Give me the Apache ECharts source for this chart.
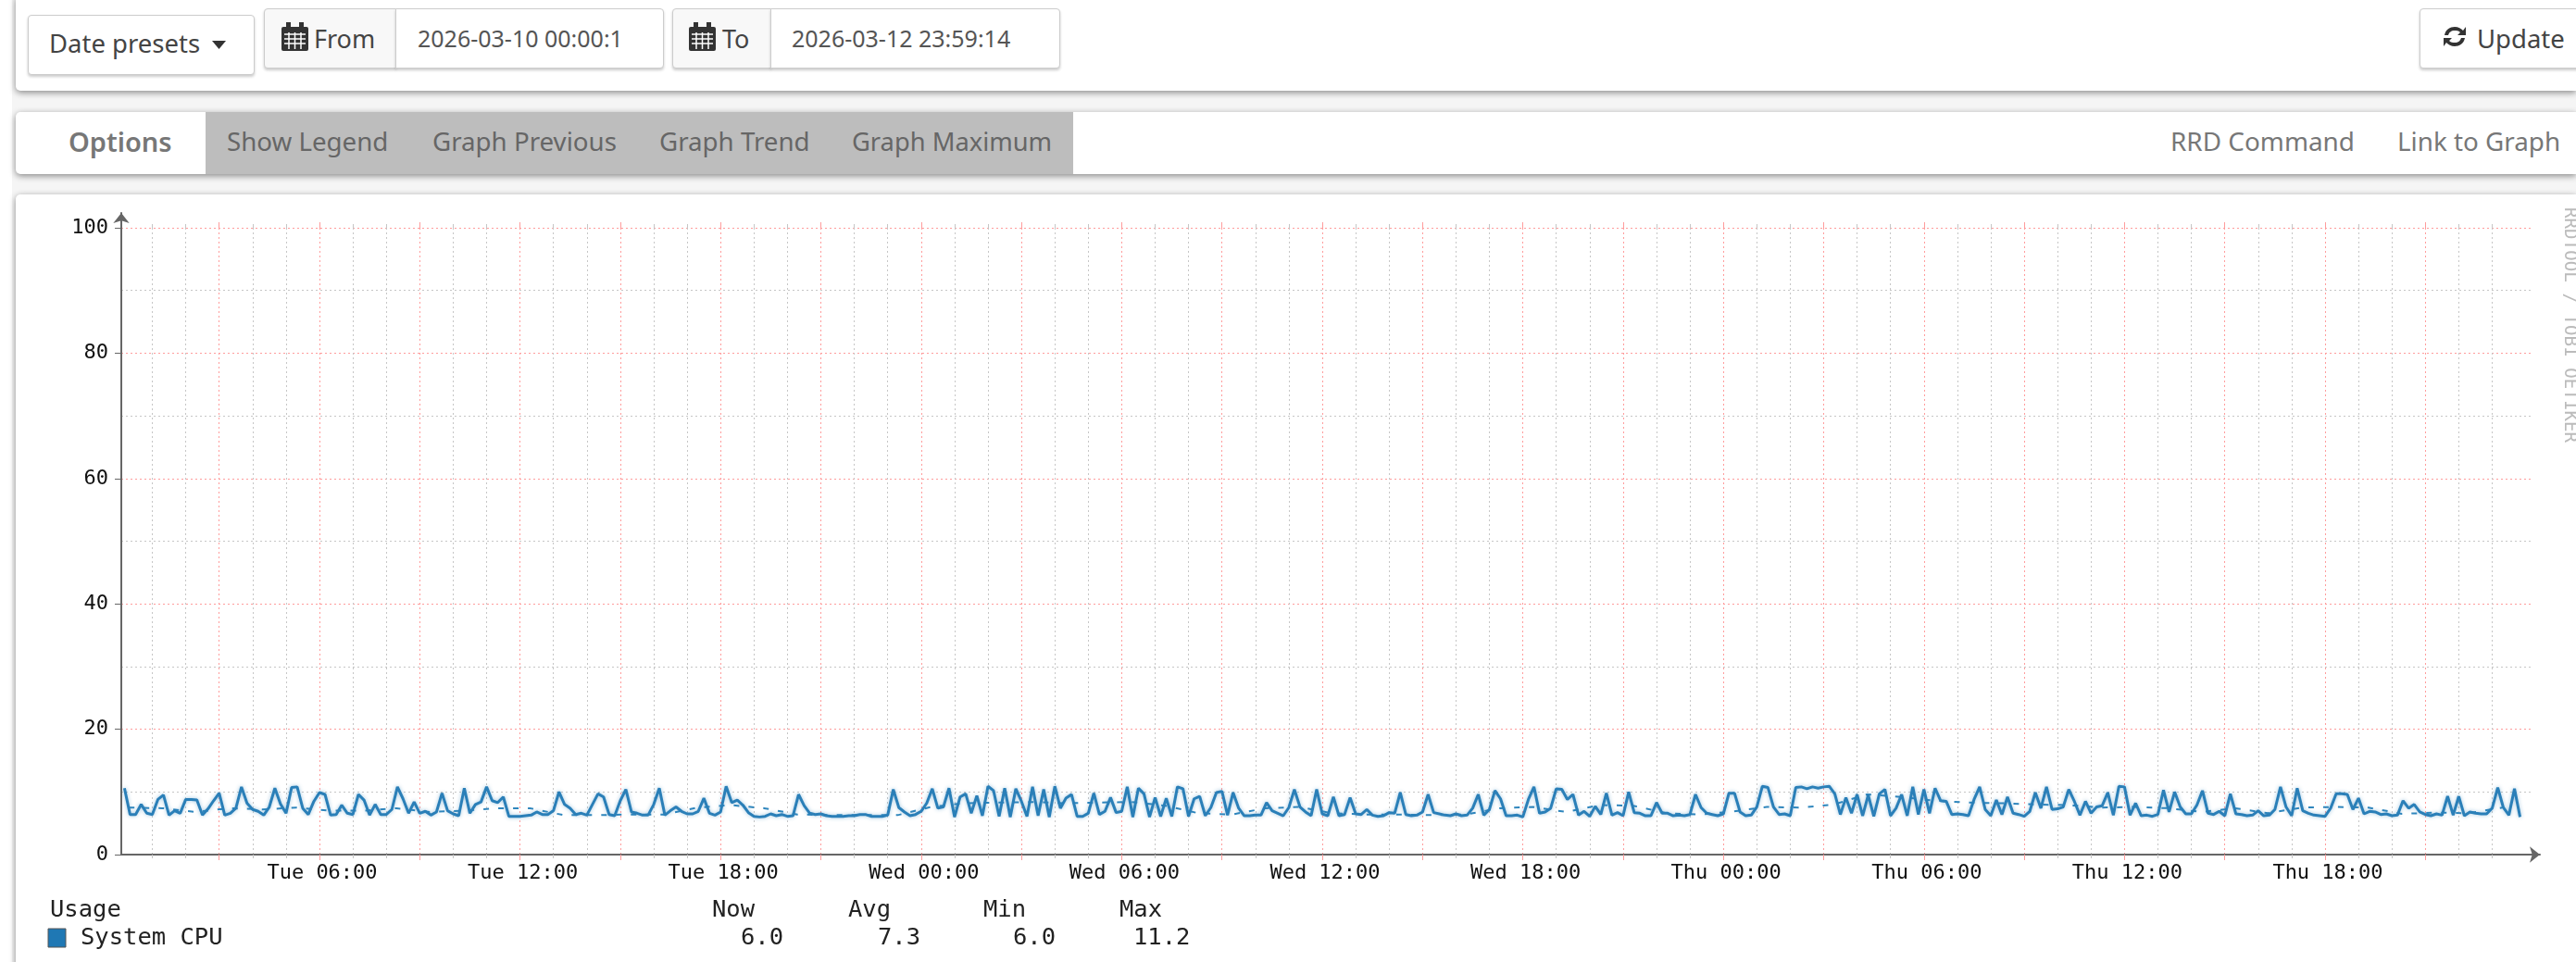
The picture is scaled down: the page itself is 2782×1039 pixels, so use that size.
<!DOCTYPE html>
<html lang="en">
<head>
<meta charset="UTF-8">
<title>System CPU</title>
<script src="https://cdn.jsdelivr.net/npm/echarts@6/dist/echarts.min.js"></script>
<style>
    html, body { margin: 0; padding: 0; width: 2782px; height: 1039px; overflow: hidden; background: #fff; }
    body { font-family: "Noto Sans", sans-serif; color: #444; }
    .strip { position: absolute; left: 13px; top: 0; width: 2769px; height: 1039px; background: #f5f5f5; }
    .panel { position: absolute; left: 17px; width: 2765px; background: #fff; border-radius: 5px 0 0 5px; box-shadow: 0 2px 7px rgba(0,0,0,.45); }
    .btn { position: absolute; box-sizing: border-box; background: #fff; border: 1px solid #ccc; border-radius: 4px; box-shadow: 0 2px 3px rgba(0,0,0,.2); }
    .addon { background: #f8f8f8; }
    .t { position: absolute; white-space: nowrap; line-height: 1; }
    .grey { position: absolute; left: 222px; top: 121px; width: 937px; height: 67px; background: #bdbdbd; }
    #chart { position: absolute; left: 0; top: 0; width: 2782px; height: 1039px; }
</style>
</head>
<body>
<div class="strip"></div>
<div class="panel" style="top:-5px;height:103px"></div>
<div class="panel" style="top:121px;height:67px"></div>
<div class="panel" style="top:210px;height:860px"></div>
<div class="grey"></div>

<div class="btn" style="left:30px;top:16px;width:245px;height:65px"></div>
<div class="btn addon" style="left:285px;top:9px;width:143px;height:65px;border-radius:4px 0 0 4px"></div>
<div class="btn" style="left:427px;top:9px;width:290px;height:65px;border-radius:0 4px 4px 0"></div>
<div class="btn addon" style="left:726px;top:9px;width:107px;height:65px;border-radius:4px 0 0 4px"></div>
<div class="btn" style="left:832px;top:9px;width:313px;height:65px;border-radius:0 4px 4px 0"></div>
<div class="btn" style="left:2613px;top:9px;width:200px;height:65px"></div>

<span class="t" style="left:53px;top:33px;font-size:27.500px;color:#444">Date presets</span>
<svg style="position:absolute;left:229px;top:44px" width="16" height="9"><path d="M0 0H15L7.500 9Z" fill="#333"/></svg>
<svg style="position:absolute;left:304px;top:24px" width="29" height="31" viewBox="0 0 29 31"><rect x="0" y="5" width="29" height="26" rx="2" fill="#333"/><rect x="5" y="0" width="5" height="8" fill="#333"/><rect x="19" y="0" width="5" height="8" fill="#333"/><path d="M3 13H26M3 18H26M3 23H26M8 11V29M14.500 11V29M21 11V29" stroke="#fff" stroke-width="1.500"/></svg>
<span class="t" style="left:339px;top:28px;font-size:27px;color:#444">From</span>
<span class="t" style="left:451px;top:29px;font-size:25px;color:#555">2026-03-10 00:00:1</span>
<svg style="position:absolute;left:744px;top:24px" width="29" height="31" viewBox="0 0 29 31"><rect x="0" y="5" width="29" height="26" rx="2" fill="#333"/><rect x="5" y="0" width="5" height="8" fill="#333"/><rect x="19" y="0" width="5" height="8" fill="#333"/><path d="M3 13H26M3 18H26M3 23H26M8 11V29M14.500 11V29M21 11V29" stroke="#fff" stroke-width="1.500"/></svg>
<span class="t" style="left:780px;top:28px;font-size:27px;color:#444">To</span>
<span class="t" style="left:855px;top:29px;font-size:25px;color:#555">2026-03-12 23:59:14</span>
<svg style="position:absolute;left:2637px;top:26px" width="28" height="27" viewBox="0 0 28 27"><path d="M3 12C4 6 9 3 14 3C18 3 21 5 23 7L26 3V12H17L20 9C18 7 16 7 14 7C10 7 8 9 7 12ZM25 15C24 21 19 24 14 24C10 24 7 22 5 20L2 24V15H11L8 18C10 20 12 20 14 20C18 20 20 18 21 15Z" fill="#333"/></svg>
<span class="t" style="left:2675px;top:28px;font-size:27.500px;color:#444">Update</span>

<span class="t" style="left:74px;top:138px;font-size:29px;font-weight:600;color:#777">Options</span>
<span class="t" style="left:245px;top:139px;font-size:27.700px;color:#666">Show Legend</span>
<span class="t" style="left:467px;top:139px;font-size:27.700px;color:#666">Graph Previous</span>
<span class="t" style="left:712px;top:139px;font-size:27.700px;color:#666">Graph Trend</span>
<span class="t" style="left:920px;top:139px;font-size:27.300px;color:#666">Graph Maximum</span>
<span class="t" style="left:2344px;top:139px;font-size:27.900px;color:#777">RRD Command</span>
<span class="t" style="left:2589px;top:139px;font-size:27.800px;color:#777">Link to Graph</span>

<div id="chart"></div>

<script>
    // ten minute samples of System CPU in percent, first sample at Tue 00:10
    var cpuValues = [
        10.6,6.4,6.4,8.0,6.6,6.4,8.8,9.5,6.3,7.0,6.6,8.8,8.8,8.7,6.3,7.3,8.6,9.8,6.3,6.6,
        7.4,10.8,8.2,7.2,6.9,6.3,7.6,10.6,8.1,6.6,10.7,10.8,7.4,6.4,8.5,9.9,9.6,6.3,6.4,7.9,
        6.6,6.4,9.6,8.7,6.3,8.0,6.4,6.4,7.2,10.8,8.9,6.6,8.4,6.6,6.9,6.3,6.8,9.8,7.0,6.5,
        6.2,10.6,6.6,8.0,8.4,10.8,8.6,8.3,9.2,6.1,6.1,6.1,6.2,6.3,6.8,6.4,6.4,7.0,10.0,8.0,
        7.4,6.4,6.6,6.3,8.0,9.7,9.2,6.4,6.2,8.6,10.4,6.8,6.6,6.3,6.3,8.0,10.6,6.3,7.0,7.6,
        6.9,6.5,6.5,6.9,9.0,6.6,6.3,6.8,10.9,8.3,8.7,7.9,6.7,6.1,6.0,6.1,6.5,6.2,6.4,6.1,
        6.2,9.6,7.8,6.6,6.4,6.5,6.2,6.1,6.1,6.1,6.2,6.2,6.4,6.4,6.1,6.1,6.1,6.3,10.4,7.5,
        6.8,6.2,6.4,6.9,8.2,10.5,7.4,7.6,10.6,6.0,9.2,9.7,6.6,9.4,6.2,10.9,10.2,6.1,10.6,6.0,
        10.5,8.5,6.1,10.8,6.2,10.4,6.0,10.9,7.4,9.0,9.6,6.1,6.1,6.6,9.8,6.4,6.9,9.1,6.7,6.9,
        10.8,6.0,10.6,9.7,6.0,9.1,6.1,9.0,6.1,10.8,10.5,6.1,8.9,9.3,6.2,7.5,9.9,10.1,6.3,9.9,
        7.4,6.2,6.2,6.3,6.3,8.3,7.0,6.6,6.2,7.5,10.4,7.6,6.8,6.2,10.4,6.5,6.2,9.2,6.2,6.4,
        9.1,6.5,6.4,7.2,6.3,6.1,6.2,6.7,6.6,9.9,6.4,6.2,6.3,6.8,9.6,6.7,6.5,6.3,6.2,6.5,
        6.2,6.3,7.4,9.6,6.3,7.2,10.2,8.9,6.2,6.2,6.3,6.0,8.8,10.8,6.6,6.8,7.4,10.5,10.4,8.8,
        9.6,6.3,6.9,6.1,7.7,6.4,9.8,6.3,6.7,6.2,10.0,6.7,6.6,6.2,6.2,8.3,6.6,6.6,6.2,6.3,
        6.2,6.4,9.6,7.5,6.6,6.4,6.2,6.5,9.8,9.8,6.8,6.2,6.3,7.6,10.9,10.7,7.6,6.4,6.5,6.2,
        10.7,10.8,10.5,10.8,10.6,10.8,10.9,9.7,6.4,9.1,6.6,9.6,6.2,9.5,6.1,9.7,10.4,6.2,7.4,9.6,
        6.2,10.8,6.4,10.4,6.6,10.6,8.6,8.5,6.4,6.5,6.4,6.2,8.8,10.8,7.2,6.2,8.7,6.4,9.2,6.6,
        6.4,6.1,6.9,9.9,7.4,10.8,7.2,7.3,7.6,10.4,8.5,6.3,8.5,6.6,7.6,7.8,9.9,6.3,10.9,10.8,
        6.3,8.2,6.2,6.3,6.1,6.4,10.3,6.8,10.0,7.6,6.5,6.5,7.9,10.2,6.6,6.4,6.9,6.2,9.7,6.5,
        6.4,6.2,6.3,7.0,6.2,6.3,7.2,10.8,7.6,6.2,10.6,7.0,6.6,6.3,6.2,6.1,7.4,9.7,9.7,9.6,
        7.2,9.0,6.5,6.9,6.8,6.4,6.5,6.2,6.3,8.6,7.4,8.0,6.8,6.4,6.2,6.5,6.3,9.3,6.3,9.3,
        6.2,6.8,6.6,6.5,6.5,7.4,10.7,7.5,6.3,10.5,6.0
    ];
    // dashed trend, one value per hour from Tue 00:00
    var trendValues = [
        7.5,7.4,6.8,7.4,7.2,7.5,7.0,7.0,7.4,6.8,7.0,7.4,7.4,6.3,6.3,6.4,6.4,7.5,7.9,7.4,
        6.4,6.3,6.3,6.3,7.6,8.2,8.3,8.4,8.2,8.3,8.4,7.8,6.6,6.4,7.4,7.6,6.6,6.4,6.4,6.3,
        6.4,7.4,7.6,6.8,7.9,7.8,6.6,6.4,6.9,7.6,7.5,8.0,9.6,9.2,8.6,8.3,8.2,8.0,7.9,7.5,
        7.6,7.4,6.8,7.4,6.6,7.5,7.6,7.5,6.5,6.7,6.6,7.5
    ];
    var hourTicks = [];
    for (var h = 1; h < 72; h++) { if (h % 3 != 0) hourTicks.push(h); }
    var redTicks = [3,6,9,12,15,18,21,24,27,30,33,36,39,42,45,48,51,54,57,60,63,66,69];
    var labelTicks = [6,12,18,24,30,36,42,48,54,60,66];
    var labelTexts = ['Tue 06:00','Tue 12:00','Tue 18:00','Wed 00:00','Wed 06:00','Wed 12:00','Wed 18:00','Thu 00:00','Thu 06:00','Thu 12:00','Thu 18:00'];
    var yMinor = [10,30,50,70,90];
    var legendHeads = ['Now','Avg','Min','Max'];
    var legendNums = ['6.0','7.3','6.0','11.2'];

    var mono = '"DejaVu Sans Mono", monospace';
    var red = '#ff9c9c', grey = '#c6c6c6', axisCol = '#666';
    var dots = [2, 3];
    var xMin = 0.072, xMax = 72.15;

    var cpuData = cpuValues.map(function (v, i) { return [(i + 1) / 6, v]; });
    var trendData = trendValues.map(function (v, i) { return [i + 0.3, v]; });

    function xAxisOf(ticks, pos, color, tickLen, grid, label) {
        return {
            type: 'value', gridIndex: 0, position: pos, min: xMin, max: xMax,
            axisLine: { show: false },
            axisTick: { show: true, customValues: ticks, length: tickLen, lineStyle: { color: color, width: 1 } },
            axisLabel: label || { show: false },
            splitLine: { show: grid, lineStyle: { color: color, type: dots, width: 1 } }
        };
    }

    var labelStyle = {
        show: true, customValues: labelTicks, color: '#111', fontFamily: mono, fontSize: 22, margin: 9,
        padding: [0, 0, 0, 6], hideOverlap: false,
        formatter: function (v) { return labelTexts[labelTicks.indexOf(v)]; }
    };

    var legendFont = '25.500px ' + mono;
    var legendItems = [
        { type: 'text', x: 54, y: 983, style: { text: 'Usage', font: legendFont, fill: '#222', textVerticalAlign: 'middle' } },
        { type: 'text', x: 87, y: 1013, style: { text: 'System CPU', font: legendFont, fill: '#222', textVerticalAlign: 'middle' } },
        { type: 'rect', shape: { x: 52, y: 1003, width: 19, height: 20 }, style: { fill: '#1f78b4', stroke: '#555', lineWidth: 1 } },
        { type: 'text', x: 2775, y: 224, rotation: -Math.PI / 2, style: { text: 'RRDTOOL / TOBI OETIKER', font: '19.2px ' + mono, fill: '#bbb', textVerticalAlign: 'middle' } }
    ];
    var headX = [769, 916, 1062, 1209], numX = [800, 948, 1094, 1224];
    legendHeads.forEach(function (s, i) {
        legendItems.push({ type: 'text', x: headX[i], y: 983, style: { text: s, font: legendFont, fill: '#222', textVerticalAlign: 'middle' } });
        legendItems.push({ type: 'text', x: numX[i], y: 1013, style: { text: legendNums[i], font: legendFont, fill: '#222', textVerticalAlign: 'middle' } });
    });

    var option = {
        animation: false,
        grid: [
            { left: 131, top: 246, width: 2602, height: 677 },
            { left: 131, top: 230, width: 2612, height: 693 }
        ],
        xAxis: [
            xAxisOf(hourTicks, 'bottom', grey, 4, true),
            xAxisOf(redTicks, 'bottom', red, 6, true, labelStyle),
            xAxisOf(hourTicks, 'top', grey, 4, false),
            xAxisOf(redTicks, 'top', red, 6, false),
            {
                type: 'value', gridIndex: 1, min: 0, max: 1,
                axisLine: { show: true, onZero: false, symbol: ['none', 'arrow'], symbolSize: [13, 11], lineStyle: { color: axisCol, width: 2 } },
                axisTick: { show: false }, axisLabel: { show: false }, splitLine: { show: false }
            }
        ],
        yAxis: [
            {
                type: 'value', gridIndex: 0, min: 0, max: 100, interval: 20,
                axisLine: { show: false },
                axisTick: { show: true, length: 7, lineStyle: { color: axisCol } },
                axisLabel: { color: '#111', fontFamily: mono, fontSize: 22, margin: 14, padding: [3, 0, 0, 0] },
                splitLine: { show: true, lineStyle: { color: red, type: dots, width: 1 } }
            },
            {
                type: 'value', gridIndex: 0, min: 0, max: 100,
                axisLine: { show: false },
                axisTick: { show: false, customValues: yMinor },
                axisLabel: { show: false },
                splitLine: { show: true, lineStyle: { color: grey, type: dots, width: 1 } }
            },
            {
                type: 'value', gridIndex: 1, min: 0, max: 1,
                axisLine: { show: true, onZero: false, symbol: ['none', 'arrow'], symbolSize: [13, 11], lineStyle: { color: axisCol, width: 2 } },
                axisTick: { show: false }, axisLabel: { show: false }, splitLine: { show: false }
            }
        ],
        series: [
            {
                name: 'Trend', type: 'line', xAxisIndex: 0, yAxisIndex: 0, data: trendData, symbol: 'none',
                lineStyle: { color: '#2f86bd', width: 2, type: [6, 10] }, z: 2
            },
            {
                name: 'System CPU', type: 'line', xAxisIndex: 0, yAxisIndex: 0, data: cpuData, symbol: 'none',
                lineStyle: { color: '#2a7fb8', width: 3, shadowColor: 'rgba(42,127,184,.45)', shadowBlur: 4 }, z: 3
            }
        ],
        graphic: legendItems
    };

    var mychart = echarts.init(document.getElementById('chart'));
    mychart.setOption(option);
</script>
</body>
</html>
